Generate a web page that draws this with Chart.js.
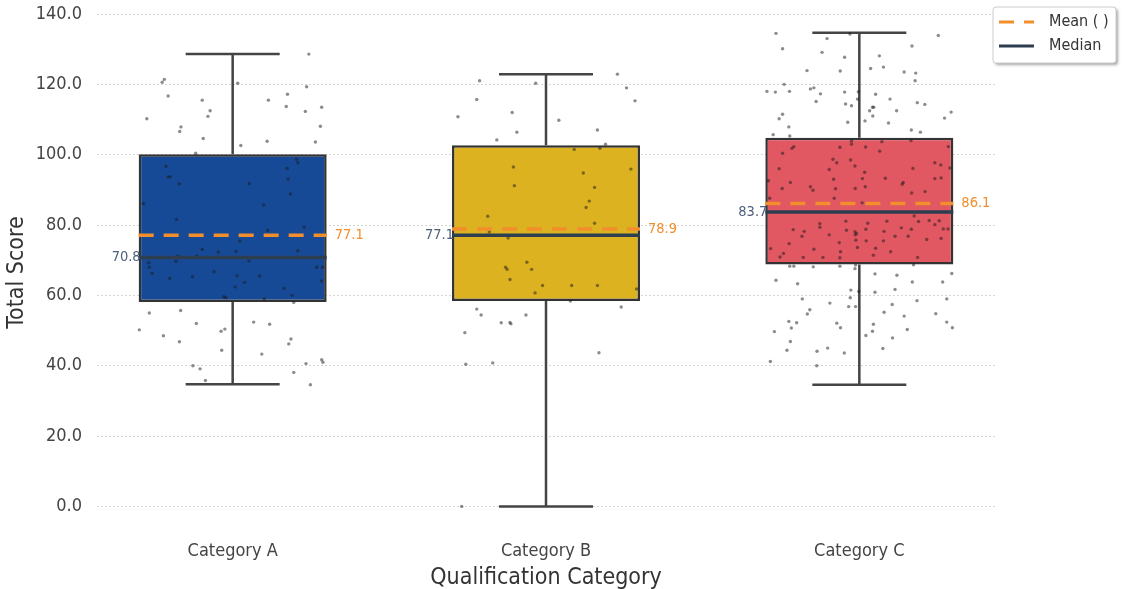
<!DOCTYPE html>
<html>
<head>
<meta charset="utf-8">
<title>Total Score by Qualification Category</title>
<script src="https://cdn.jsdelivr.net/npm/chart.js@4.4.1/dist/chart.umd.min.js"></script>
<style>
  html, body { margin: 0; padding: 0; background: #ffffff; }
  #wrap { width: 1123px; height: 589px; }
</style>
</head>
<body>
<div id="wrap"><canvas id="chart" width="1123" height="589"></canvas></div>
<script>
// ---- data -------------------------------------------------------------
const categories = ['Category A', 'Category B', 'Category C'];
const q1 = [58.1, 58.4, 68.8];
const q3 = [100.1, 102.7, 104.8];
const medians = [70.8, 77.1, 83.7];
const means = [77.1, 78.9, 86.1];
const whiskerLow = [34.7, 0.0, 34.6];
const whiskerHigh = [128.6, 122.9, 134.7];
const yTicks = [0, 20, 40, 60, 80, 100, 120, 140];

// individual scores with their horizontal jitter (in category units)
const scoresA = [128.6,121.4,120.6,120.3,119.3,116.7,117.2,115.5,115.5,113.7,113.5,112.5,112.3,110.9,110.2,107.9,106.6,108.1,104.6,103.8,103.6,102.6,100.4,96.7,93.7,93.7,91.7,98.7,97.7,96.1,93.1,91.8,88.8,86.1,85.7,81.6,79.4,78.5,75.5,73.1,72.3,72.5,72.7,71.1,71.1,69.3,68.0,69.7,69.8,68.0,68.0,66.2,64.8,65.3,66.7,65.6,65.5,64.1,63.7,62.4,62.0,59.6,59.3,59.0,60.0,58.0,55.0,55.7,50.2,52.0,52.4,51.8,48.5,46.8,49.8,50.4,47.6,46.2,44.4,43.3,40.0,39.1,41.7,41.0,40.6,38.1,35.8,34.6];
const jitterA = [0.243,-0.218,-0.225,0.016,0.236,-0.206,0.175,-0.097,0.114,0.171,0.284,-0.072,0.232,-0.079,-0.274,-0.165,-0.169,0.280,-0.094,0.110,0.264,0.026,-0.118,-0.213,-0.206,-0.199,-0.170,0.204,0.208,0.174,0.177,0.053,0.185,-0.285,0.099,-0.179,0.228,0.112,0.023,-0.097,-0.046,0.011,0.208,-0.175,-0.115,-0.268,-0.266,-0.181,0.052,0.268,0.287,-0.257,-0.201,-0.128,-0.059,0.014,0.086,0.283,0.038,0.008,0.163,-0.028,-0.022,0.101,0.189,0.195,-0.266,-0.166,-0.298,-0.116,0.067,0.118,-0.221,-0.170,-0.037,-0.025,0.186,0.179,-0.035,0.093,-0.127,-0.104,0.284,0.288,0.234,0.195,-0.087,0.248];

const scoresB = [122.9,121.0,120.3,119.0,115.7,115.3,110.8,112.0,109.8,106.4,107.0,104.2,103.0,101.5,101.8,96.5,95.9,94.8,91.2,90.7,86.8,85.0,82.5,80.5,78.0,76.3,69.4,68.0,67.4,67.4,64.5,62.8,62.8,62.8,60.7,61.8,58.4,56.1,54.4,56.7,54.4,52.2,52.3,51.9,49.4,43.7,40.4,40.8,0.0];
const jitterB = [0.228,-0.212,-0.033,0.257,-0.221,0.284,-0.281,-0.108,0.041,-0.093,0.164,-0.157,0.190,0.090,0.172,-0.104,0.271,0.119,-0.101,0.155,0.138,0.128,-0.186,0.155,-0.181,-0.121,-0.061,-0.129,-0.124,-0.046,-0.115,-0.011,0.082,0.164,-0.035,0.289,0.078,-0.221,-0.207,0.240,-0.064,-0.143,-0.115,-0.112,-0.259,0.169,-0.256,-0.170,-0.269];

const scoresC = [
  134.5,133.9,133.0,134.3,130.1,130.9,129.1,127.7,128.1,123.9,123.8,124.5,124.9,123.5,123.2,121.0,120.0,118.0,117.8,118.0,118.7,119.0,117.3,117.8,117.9,117.2,115.1,115.8,114.4,113.9,115.8,114.8,114.3,113.5,113.5,112.5,112.5,111.0,112.1,111.5,110.2,110.4,109.2,109.6,109.0,107.9,107.0,106.4,105.3,
  105.7,101.8,102.3,100.4,102.1,103.9,103.0,102.2,103.7,101.0,104.0,102.3,98.7,97.7,98.5,96.8,95.8,96.0,97.7,97.1,96.1,96.2,95.0,93.0,93.2,93.3,93.2,93.4,92.1,92.6,92.1,91.6,90.4,90.9,89.9,90.3,90.4,90.9,89.1,89.5,87.6,87.6,86.3,
  78.7,78.2,76.8,80.4,79.4,77.2,81.1,78.5,75.0,78.1,77.6,77.2,78.8,80.5,75.7,81.1,78.2,79.2,78.8,82.6,81.0,81.3,80.1,81.2,78.9,78.9,76.8,76.8,75.9,76.2,75.5,75.5,74.7,73.3,73.1,73.6,73.4,72.4,71.9,70.9,70.8,70.8,71.4,72.4,70.8,70.7,68.3,68.3,68.1,68.3,68.6,68.7,
  64.3,63.3,67.6,66.1,65.7,63.8,63.8,66.2,61.5,61.1,60.9,61.7,59.0,59.3,57.8,58.5,59.0,56.8,56.8,57.4,55.9,54.7,55.2,54.1,54.8,52.6,52.2,50.7,49.7,52.1,50.8,51.8,49.8,48.6,50.3,52.4,50.8,46.9,47.9,44.4,44.1,45.0,43.6,44.9,41.2,40.0
];
const jitterC = [
  -0.266,0.252,-0.103,-0.030,-0.245,0.168,-0.119,-0.047,0.064,-0.167,-0.061,0.036,0.077,0.143,0.180,0.178,-0.240,-0.295,-0.268,-0.223,-0.156,-0.145,-0.124,-0.047,-0.003,0.052,-0.138,-0.006,-0.044,-0.025,0.098,0.185,0.209,0.042,0.046,0.033,0.119,0.043,0.293,-0.245,-0.256,0.272,-0.037,0.018,0.093,-0.225,0.166,0.195,-0.222,
  -0.275,-0.215,-0.209,-0.245,-0.062,-0.025,-0.025,0.020,0.072,0.065,0.165,0.284,-0.084,-0.072,-0.028,-0.014,-0.096,-0.256,0.241,0.260,0.171,0.289,0.017,-0.082,0.010,0.083,0.241,0.261,-0.220,-0.290,0.140,0.137,-0.246,-0.156,-0.148,-0.076,-0.013,0.019,0.167,0.210,-0.286,-0.080,0.009,
  -0.211,-0.176,-0.183,-0.126,-0.126,-0.096,-0.043,-0.041,-0.064,-0.014,-0.009,-0.013,0.021,0.027,-0.011,0.088,0.079,0.134,0.166,0.175,0.189,0.223,0.241,0.255,0.268,0.283,0.114,0.156,0.215,0.261,0.077,0.022,-0.224,-0.283,-0.145,-0.006,0.052,-0.060,-0.242,-0.253,-0.179,-0.116,0.045,0.100,0.186,-0.062,-0.222,-0.209,-0.147,-0.062,-0.012,0.173,
  -0.266,-0.197,-0.014,0.050,0.120,0.169,0.266,0.295,-0.027,-0.002,0.050,0.114,-0.182,-0.029,-0.094,0.184,0.279,-0.034,-0.012,0.105,-0.158,-0.166,0.079,0.143,0.244,-0.225,-0.200,-0.217,-0.271,-0.072,-0.060,0.045,0.042,0.021,0.153,0.279,0.297,-0.220,0.106,-0.231,-0.135,-0.101,-0.048,0.075,-0.284,-0.136
];

// ---- styling ----------------------------------------------------------
const FONT = "'DejaVu Sans Condensed', 'Liberation Sans Narrow', Roboto, sans-serif";
const BOX_COLORS = ['#174a96', '#dcb221', '#e15762'];
const EDGE = '#333333';
const WHISKER = '#444444';
const MEDIAN_COLOR = '#2c3e50';
const MEAN_COLOR = '#f28e2b';
const MEDIAN_LABEL = '#4d5f7a';
const BOX_HALF = 0.3;   // half box width, category units
const CAP_HALF = 0.15;  // half whisker-cap width

// ---- helpers ----------------------------------------------------------
const gap = i => ({ x: i, y: null });
function segments(build) {
  const out = [];
  categories.forEach((_, i) => { out.push(...build(i), gap(i)); });
  return out;
}
function spread(i, jitter, scores) {
  return scores.map((s, k) => ({ x: i + jitter[k], y: s }));
}

const whiskerStems = segments(i => [
  { x: i, y: q3[i] }, { x: i, y: whiskerHigh[i] }, gap(i),
  { x: i, y: q1[i] }, { x: i, y: whiskerLow[i] }
]);
const whiskerCaps = segments(i => [
  { x: i - CAP_HALF, y: whiskerHigh[i] }, { x: i + CAP_HALF, y: whiskerHigh[i] }, gap(i),
  { x: i - CAP_HALF, y: whiskerLow[i] }, { x: i + CAP_HALF, y: whiskerLow[i] }
]);
const medianSegs = segments(i => [
  { x: i - BOX_HALF, y: medians[i] }, { x: i + BOX_HALF, y: medians[i] }
]);
const meanSegs = segments(i => [
  { x: i - BOX_HALF, y: means[i] }, { x: i + BOX_HALF, y: means[i] }
]);
const points = [
  ...spread(0, jitterA, scoresA),
  ...spread(1, jitterB, scoresB),
  ...spread(2, jitterC, scoresC)
];

// value labels beside each box
const boxLabels = {
  id: 'boxLabels',
  afterDatasetsDraw(chart) {
    const { ctx, scales: { x, y } } = chart;
    ctx.save();
    ctx.font = `14.5px ${FONT}`;
    ctx.textBaseline = 'middle';
    categories.forEach((_, i) => {
      const left = x.getPixelForValue(i - BOX_HALF);
      const right = x.getPixelForValue(i + BOX_HALF);
      ctx.fillStyle = MEDIAN_LABEL;
      ctx.textAlign = 'right';
      ctx.fillText(medians[i].toFixed(1), left + 2, y.getPixelForValue(medians[i]));
      ctx.fillStyle = MEAN_COLOR;
      ctx.textAlign = 'left';
      ctx.fillText(means[i].toFixed(1), right + 8, y.getPixelForValue(means[i]));
    });
    ctx.restore();
  }
};

// framed legend in the top-right corner
const framedLegend = {
  id: 'framedLegend',
  afterDraw(chart) {
    const { ctx } = chart;
    const items = chart.data.datasets.filter(d => d.legendEntry);
    const x0 = 993, y0 = 7, w = 123, h = 56;
    ctx.save();
    ctx.shadowColor = 'rgba(0,0,0,0.35)';
    ctx.shadowOffsetX = 2;
    ctx.shadowOffsetY = 2;
    ctx.shadowBlur = 3;
    ctx.beginPath();
    ctx.roundRect(x0, y0, w, h, 3);
    ctx.fillStyle = '#ffffff';
    ctx.fill();
    ctx.shadowColor = 'transparent';
    ctx.lineWidth = 1;
    ctx.strokeStyle = '#cccccc';
    ctx.stroke();
    ctx.font = `16px ${FONT}`;
    ctx.textBaseline = 'middle';
    ctx.textAlign = 'left';
    items.forEach((d, k) => {
      const cy = y0 + 15 + k * 24;
      ctx.beginPath();
      ctx.setLineDash(d.borderDash || []);
      ctx.lineWidth = 3;
      ctx.strokeStyle = d.borderColor;
      ctx.moveTo(x0 + 6, cy);
      ctx.lineTo(x0 + 41, cy);
      ctx.stroke();
      ctx.setLineDash([]);
      ctx.fillStyle = '#333333';
      ctx.fillText(d.label, x0 + 56, cy);
    });
    ctx.restore();
  }
};

new Chart(document.getElementById('chart'), {
  data: {
    datasets: [
      {
        type: 'bar',
        label: 'IQR',
        data: categories.map((_, i) => ({ x: i, y: [q1[i], q3[i]] })),
        backgroundColor: BOX_COLORS,
        borderColor: EDGE,
        borderWidth: 2.5,
        borderSkipped: false,
        barPercentage: 2 * BOX_HALF,
        categoryPercentage: 1,
        grouped: false,
        order: 5
      },
      {
        type: 'line', label: 'Whiskers', data: whiskerStems,
        borderColor: WHISKER, borderWidth: 2.5, pointRadius: 0, spanGaps: false, order: 6
      },
      {
        type: 'line', label: 'Caps', data: whiskerCaps,
        borderColor: WHISKER, borderWidth: 2.5, pointRadius: 0, spanGaps: false, order: 6
      },
      {
        type: 'scatter', label: 'Scores', data: points,
        backgroundColor: 'rgba(25,25,25,0.5)', borderWidth: 0, pointRadius: 1.7, order: 4
      },
      {
        type: 'line', label: 'Mean ( )', data: meanSegs, legendEntry: true,
        borderColor: MEAN_COLOR, borderWidth: 3.5, borderDash: [15, 10], pointRadius: 0, spanGaps: false, order: 1
      },
      {
        type: 'line', label: 'Median', data: medianSegs, legendEntry: true,
        borderColor: MEDIAN_COLOR, borderWidth: 3.5, pointRadius: 0, spanGaps: false, order: 2
      }
    ]
  },
  options: {
    responsive: false,
    animation: false,
    events: [],
    layout: { padding: { left: 0, right: 128, top: 14, bottom: 0 } },
    plugins: {
      legend: { display: false },
      tooltip: { enabled: false }
    },
    scales: {
      x: {
        type: 'linear',
        offset: false,
        min: -0.433,
        max: 2.433,
        afterBuildTicks: s => { s.ticks = categories.map((_, i) => ({ value: i })); },
        afterFit: s => { s.height = 58; },
        grid: { display: false, drawTicks: false, offset: false },
        border: { display: false },
        ticks: {
          callback: v => categories[v],
          color: '#444444',
          padding: 10,
          maxRotation: 0,
          font: { family: FONT, size: 18 }
        },
        title: {
          display: true,
          text: 'Qualification Category',
          color: '#333333',
          padding: { top: 0, bottom: -3 },
          font: { family: FONT, size: 23 }
        }
      },
      y: {
        type: 'linear',
        min: -7,
        max: 140,
        afterBuildTicks: s => { s.ticks = yTicks.map(v => ({ value: v })); },
        afterFit: s => { s.width = 97; s.paddingTop = 0; s.paddingBottom = 0; },
        grid: { color: '#d4d4d4', lineWidth: 1, drawTicks: false },
        border: { display: false, dash: [2, 2] },
        ticks: {
          callback: v => Number(v).toFixed(1),
          color: '#444444',
          padding: 15,
          font: { family: FONT, size: 18 }
        },
        title: {
          display: true,
          text: 'Total Score',
          color: '#333333',
          padding: { top: 3, bottom: 0 },
          font: { family: FONT, size: 23 }
        }
      }
    }
  },
  plugins: [boxLabels, framedLegend]
});
</script>
</body>
</html>
